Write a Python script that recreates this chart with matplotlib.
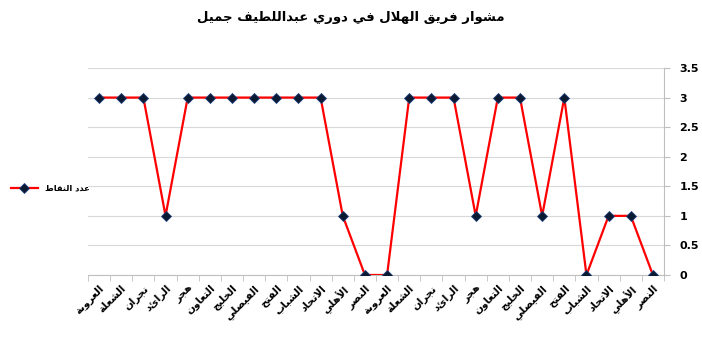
import matplotlib.pyplot as plt
from matplotlib.ticker import FixedLocator

plt.rcParams['font.family'] = ['DejaVu Sans']

title = 'مشوار فريق الهلال في دوري عبداللطيف جميل'
series_name = 'عدد النقاط'
opponents = ['العروبة', 'الشعلة', 'نجران', 'الرائد', 'هجر', 'التعاون', 'الخليج',
             'الفيصلي', 'الفتح', 'الشباب', 'الاتحاد', 'الأهلي', 'النصر',
             'العروبة', 'الشعلة', 'نجران', 'الرائد', 'هجر', 'التعاون', 'الخليج',
             'الفيصلي', 'الفتح', 'الشباب', 'الاتحاد', 'الأهلي', 'النصر']
points = [3, 3, 3, 1, 3, 3, 3, 3, 3, 3, 3, 1, 0,
          0, 3, 3, 3, 1, 3, 3, 1, 3, 0, 1, 1, 0]
y_ticks = [0, 0.5, 1, 1.5, 2, 2.5, 3, 3.5]
y_labels = ['0', '0.5', '1', '1.5', '2', '2.5', '3', '3.5']

# matplotlib has no arabic shaping, so map letters to presentation forms
# (isolated, final, initial, medial)
FORMS = {
    'ا': (0xFE8D, 0xFE8E), 'أ': (0xFE83, 0xFE84), 'إ': (0xFE87, 0xFE88),
    'آ': (0xFE81, 0xFE82), 'د': (0xFEA9, 0xFEAA), 'ذ': (0xFEAB, 0xFEAC),
    'ر': (0xFEAD, 0xFEAE), 'ز': (0xFEAF, 0xFEB0), 'و': (0xFEED, 0xFEEE),
    'ة': (0xFE93, 0xFE94), 'ى': (0xFEEF, 0xFEF0),
    'ب': (0xFE8F, 0xFE90, 0xFE91, 0xFE92), 'ت': (0xFE95, 0xFE96, 0xFE97, 0xFE98),
    'ث': (0xFE99, 0xFE9A, 0xFE9B, 0xFE9C), 'ج': (0xFE9D, 0xFE9E, 0xFE9F, 0xFEA0),
    'ح': (0xFEA1, 0xFEA2, 0xFEA3, 0xFEA4), 'خ': (0xFEA5, 0xFEA6, 0xFEA7, 0xFEA8),
    'س': (0xFEB1, 0xFEB2, 0xFEB3, 0xFEB4), 'ش': (0xFEB5, 0xFEB6, 0xFEB7, 0xFEB8),
    'ص': (0xFEB9, 0xFEBA, 0xFEBB, 0xFEBC), 'ض': (0xFEBD, 0xFEBE, 0xFEBF, 0xFEC0),
    'ط': (0xFEC1, 0xFEC2, 0xFEC3, 0xFEC4), 'ظ': (0xFEC5, 0xFEC6, 0xFEC7, 0xFEC8),
    'ع': (0xFEC9, 0xFECA, 0xFECB, 0xFECC), 'غ': (0xFECD, 0xFECE, 0xFECF, 0xFED0),
    'ف': (0xFED1, 0xFED2, 0xFED3, 0xFED4), 'ق': (0xFED5, 0xFED6, 0xFED7, 0xFED8),
    'ك': (0xFED9, 0xFEDA, 0xFEDB, 0xFEDC), 'ل': (0xFEDD, 0xFEDE, 0xFEDF, 0xFEE0),
    'م': (0xFEE1, 0xFEE2, 0xFEE3, 0xFEE4), 'ن': (0xFEE5, 0xFEE6, 0xFEE7, 0xFEE8),
    'ه': (0xFEE9, 0xFEEA, 0xFEEB, 0xFEEC), 'ي': (0xFEF1, 0xFEF2, 0xFEF3, 0xFEF4),
}
LAM_ALEF = {'ا': (0xFEFB, 0xFEFC), 'أ': (0xFEF7, 0xFEF8),
            'إ': (0xFEF9, 0xFEFA), 'آ': (0xFEF5, 0xFEF6)}


def shape(text):
    out = []
    i = 0
    while i < len(text):
        c = text[i]
        if c not in FORMS:
            out.append(c)
            i += 1
            continue
        prev = text[i - 1] if i > 0 else ''
        joins_prev = prev in FORMS and len(FORMS[prev]) == 4
        if c == 'ل' and i + 1 < len(text) and text[i + 1] in LAM_ALEF:
            f = LAM_ALEF[text[i + 1]]
            out.append(chr(f[1] if joins_prev else f[0]))
            i += 2
            continue
        nxt = text[i + 1] if i + 1 < len(text) else ''
        f = FORMS[c]
        joins_next = len(f) == 4 and nxt in FORMS
        if joins_prev and joins_next:
            out.append(chr(f[3]))
        elif joins_prev:
            out.append(chr(f[1]))
        elif joins_next:
            out.append(chr(f[2]))
        else:
            out.append(chr(f[0]))
        i += 1
    return ''.join(out)[::-1]


fig = plt.figure(figsize=(7.02, 3.51), dpi=100)
ax = fig.add_axes([88 / 702, 1 - 275 / 351, (664 - 88) / 702, (275 - 68) / 351])

x = list(range(len(points)))
ax.plot(x, points, color='#ff0000', linewidth=1.6, marker='D', markersize=5,
        markerfacecolor='#0b1a33', markeredgecolor='#1f3f7a', markeredgewidth=0.6,
        label=shape(series_name), zorder=3)

ax.set_xlim(-0.5, len(points) - 0.5)
ax.set_ylim(0, 3.5)
ax.set_yticks(y_ticks)
ax.set_yticklabels(y_labels, fontsize=8, fontweight='bold')
ax.yaxis.tick_right()
ax.tick_params(axis='y', length=4, color='#bfbfbf', pad=7)
ax.grid(axis='y', color='#d9d9d9', linewidth=0.8)

ax.set_xticks(x)
ax.set_xticklabels([shape(o) for o in opponents], rotation=45, ha='right',
                   rotation_mode='anchor', fontsize=7.5, fontweight='bold')
ax.tick_params(axis='x', length=0, pad=6)
ax.xaxis.set_minor_locator(FixedLocator([i - 0.5 for i in range(len(points) + 1)]))
ax.tick_params(axis='x', which='minor', length=4, color='#bfbfbf')

for side in ['top', 'left']:
    ax.spines[side].set_visible(False)
ax.spines['bottom'].set_color('#bfbfbf')
ax.spines['right'].set_color('#bfbfbf')
ax.set_axisbelow(True)

fig.text(0.5, 1 - 18 / 351, shape(title), ha='center', va='center',
         fontsize=9.5, fontweight='bold')

fig.legend(loc='center left', bbox_to_anchor=(0.005, 1 - 188 / 351), frameon=False,
           handlelength=3.2, handletextpad=0.9,
           prop={'weight': 'bold', 'size': 6})

fig.savefig('out.png', dpi=100)
